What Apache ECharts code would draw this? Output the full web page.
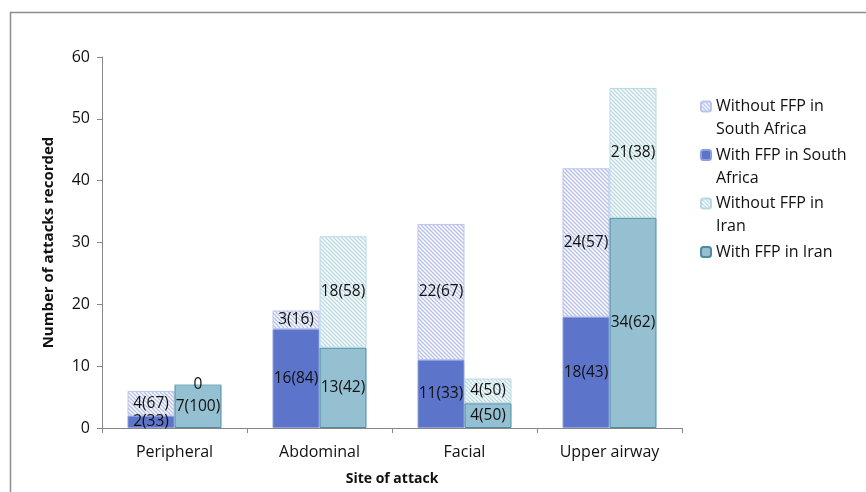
<!DOCTYPE html>
<html>
<head>
<meta charset="utf-8">
<script src="https://cdn.jsdelivr.net/npm/echarts@6/dist/echarts.min.js"></script>
<style>
  html, body { margin: 0; padding: 0; background: #fff; }
  #chart { width: 866px; height: 492px; }
</style>
</head>
<body>
<div id="chart"></div>
<script>
// Sites of attack and attack counts, with percentages shown in the labels
const categories = ['Peripheral', 'Abdominal', 'Facial', 'Upper airway'];

const saWith = [2, 16, 11, 18];
const saWithout = [4, 3, 22, 24];
const iranWith = [7, 13, 4, 34];
const iranWithout = [0, 18, 4, 21];

const saWithLabels = ['2(33)', '16(84)', '11(33)', '18(43)'];
const saWithoutLabels = ['4(67)', '3(16)', '22(67)', '24(57)'];
const iranWithLabels = ['7(100)', '13(42)', '4(50)', '34(62)'];
const iranWithoutLabels = ['0', '18(58)', '4(50)', '21(38)'];

const yTicks = [0, 10, 20, 30, 40, 50, 60];

const FONT = '"Open Sans", "DejaVu Sans", sans-serif';

// Diagonal hatch tile used for the "without FFP" segments
function hatch(stripe) {
  const c = document.createElement('canvas');
  c.width = 4; c.height = 4;
  const g = c.getContext('2d');
  g.fillStyle = '#ffffff';
  g.fillRect(0, 0, 4, 4);
  g.strokeStyle = stripe;
  g.lineWidth = 1.3;
  g.beginPath();
  g.moveTo(-1, -1); g.lineTo(5, 5);
  g.moveTo(-1, 3); g.lineTo(1, 5);
  g.moveTo(3, -1); g.lineTo(5, 1);
  g.stroke();
  return { image: c, repeat: 'repeat' };
}

function labelOf(texts) {
  return {
    show: true,
    position: 'inside',
    color: '#111',
    fontFamily: FONT,
    fontSize: 15.5,
    formatter: p => texts[p.dataIndex]
  };
}

const chart = echarts.init(document.getElementById('chart'), null, { renderer: 'canvas' });

// Legend text is wrapped onto lines; a blank first line keeps the swatch
// level with the first line of text.
const legendWrap = {
  'Without FFP in South Africa': '\nWithout FFP in\nSouth Africa',
  'With FFP in South Africa': '\nWith FFP in South\nAfrica',
  'Without FFP in Iran': '\nWithout FFP in\nIran',
  'With FFP in Iran': '\nWith FFP in Iran\n '
};

chart.setOption({
  animation: false,
  backgroundColor: '#ffffff',
  graphic: [{
    type: 'rect',
    shape: { x: 10.5, y: 12.5, width: 1000, height: 1000 },
    style: { fill: 'none', stroke: '#8c8c8c', lineWidth: 1.5 },
    silent: true,
    z: -1
  }],
  grid: { left: 102, right: 184, top: 57, bottom: 64 },
  legend: {
    orient: 'vertical',
    left: 700,
    top: 72,
    padding: 0,
    itemWidth: 10,
    itemHeight: 10,
    itemGap: -20.5,
    selectedMode: false,
    textStyle: {
      fontFamily: FONT,
      fontSize: 16,
      color: '#111',
      lineHeight: 23
    },
    data: [
      { name: 'Without FFP in South Africa' },
      { name: 'With FFP in South Africa' },
      { name: 'Without FFP in Iran' },
      { name: 'With FFP in Iran' }
    ],
    formatter: name => legendWrap[name]
  },
  xAxis: {
    type: 'category',
    data: categories,
    name: 'Site of attack',
    nameLocation: 'middle',
    nameGap: 44,
    nameTextStyle: { fontFamily: FONT, fontSize: 14, fontWeight: 'bold', color: '#111' },
    axisLine: { lineStyle: { color: '#868686', width: 1 } },
    axisTick: { show: true, length: 5, lineStyle: { color: '#868686' } },
    axisLabel: { fontFamily: FONT, fontSize: 16, color: '#111', margin: 16 },
    splitLine: { show: false }
  },
  yAxis: {
    type: 'value',
    min: yTicks[0],
    max: yTicks[yTicks.length - 1],
    interval: 10,
    name: 'Number of attacks recorded',
    nameLocation: 'middle',
    nameGap: 46,
    nameRotate: 90,
    nameTextStyle: { fontFamily: FONT, fontSize: 15, fontWeight: 'bold', color: '#111' },
    axisLine: { show: true, lineStyle: { color: '#868686', width: 1 } },
    axisTick: { show: true, length: 5, lineStyle: { color: '#868686' } },
    axisLabel: { fontFamily: FONT, fontSize: 16, color: '#111', margin: 12 },
    splitLine: { show: false }
  },
  series: [
    {
      name: 'With FFP in South Africa',
      type: 'bar',
      stack: 'sa',
      barWidth: 47,
      barGap: '0%',
      data: saWith,
      itemStyle: { color: '#5c74c9', borderColor: '#8d9edc', borderWidth: 1 },
      label: labelOf(saWithLabels)
    },
    {
      name: 'Without FFP in South Africa',
      type: 'bar',
      stack: 'sa',
      barWidth: 47,
      barGap: '0%',
      data: saWithout,
      itemStyle: { color: hatch('#b3bde6'), borderColor: '#bac4ec', borderWidth: 1 },
      label: labelOf(saWithoutLabels)
    },
    {
      name: 'With FFP in Iran',
      type: 'bar',
      stack: 'ir',
      barWidth: 47,
      barGap: '0%',
      data: iranWith,
      itemStyle: { color: '#94c0d1', borderColor: '#4e8ca1', borderWidth: 1 },
      label: labelOf(iranWithLabels)
    },
    {
      name: 'Without FFP in Iran',
      type: 'bar',
      stack: 'ir',
      barWidth: 47,
      barGap: '0%',
      data: iranWithout,
      itemStyle: { color: hatch('#b6dae4'), borderColor: '#b8d8e2', borderWidth: 1 },
      label: labelOf(iranWithoutLabels)
    }
  ]
});
</script>
</body>
</html>
